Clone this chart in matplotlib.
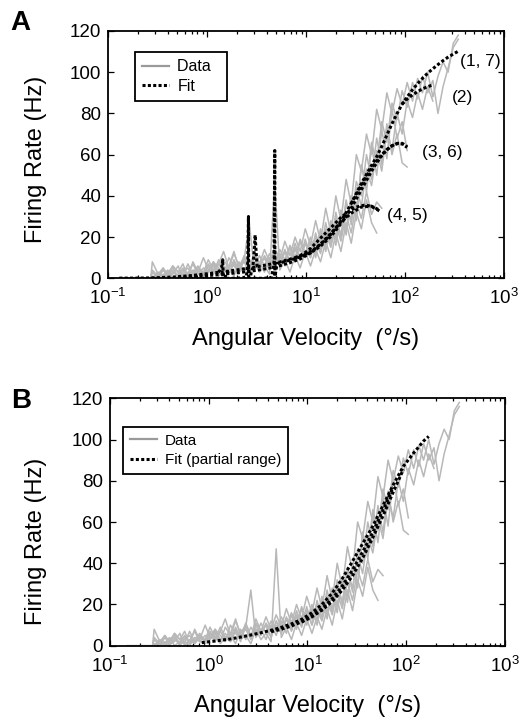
import matplotlib
matplotlib.use("Agg")
import matplotlib.pyplot as plt
import numpy as np
from matplotlib.ticker import LogLocator, NullFormatter

plt.rcParams['font.family'] = ['Liberation Sans', 'DejaVu Sans']
plt.rcParams['mathtext.fontset'] = 'custom'
plt.rcParams['mathtext.rm'] = 'Liberation Sans'
plt.rcParams['mathtext.it'] = 'Liberation Sans:italic'
plt.rcParams['mathtext.bf'] = 'Liberation Sans:bold'

# ---------------- data (angular velocity grid, deg/s) ----------------
X = [0.15, 0.27, 0.28, 0.32, 0.36, 0.40, 0.45, 0.51, 0.57, 0.64, 0.72, 0.81,
     0.92, 1.03, 1.16, 1.31, 1.47, 1.66, 1.87, 2.1, 2.37, 2.67, 3.0, 3.38,
     3.8, 4.28, 4.82, 5.43, 6.11, 6.88, 7.75, 8.72, 9.82, 11.1, 12.5, 14.0,
     15.8, 17.8, 20.0, 22.5, 25.4, 28.6, 32.2, 36.2, 40.8, 45.9, 51.7, 58.2,
     65.5, 73.8, 83.1, 93.5, 105, 119, 134, 150, 169, 191, 215, 242, 272,
     307, 345]

trace1 = [0, 0, 8, 2, 5, 0, 6, 3, 7, 1, 8, 3, 10,
          4, 7, 2, 9, 5, 12, 6, 10, 4, 13,
          7, 14, 8, 15, 9, 18, 11, 20, 13, 24,
          16, 28, 18, 34, 22, 40, 28, 48, 36, 60,
          52, 70, 60, 82, 72, 90, 80, 92, 84, 95,
          86, 97, 90, 100, 88, 98, 105, 100, 114, 118]
trace7 = [0, 0, 3, 0, 2, 1, 4, 0, 3, 5, 1, 4, 2,
          6, 2, 7, 3, 5, 1, 8, 3, 9, 5,
          11, 6, 12, 7, 14, 9, 16, 10, 19, 12,
          20, 12, 24, 15, 28, 19, 33, 24, 40, 30,
          55, 45, 66, 56, 76, 66, 85, 77, 91, 83,
          95, 87, 98, 90, 96, 80, 93, 102, 112, 116]
trace2 = [0, 0, 0, 3, 1, 4, 0, 2, 5, 1, 3, 6, 2,
          4, 8, 3, 6, 2, 9, 4, 11, 5, 8,
          6, 10, 4, 12, 7, 13, 8, 15, 10, 17,
          13, 20, 14, 24, 18, 29, 21, 36, 28, 44,
          35, 53, 45, 62, 52, 72, 62, 80, 70, 86,
          78, 90, 82, 93, 86]
trace3 = [0, 0, 1, 0, 4, 1, 2, 6, 0, 3, 1, 5, 2,
          7, 3, 9, 4, 6, 13, 5, 8, 3, 10,
          5, 11, 7, 10, 6, 14, 8, 17, 10, 19,
          10, 22, 13, 27, 16, 32, 20, 38, 26, 47,
          40, 60, 48, 68, 55, 75, 60, 70, 56, 54]
trace6 = [0, 0, 0, 2, 0, 3, 5, 1, 4, 2, 7, 2, 5,
          3, 8, 5, 2, 10, 6, 3, 9, 27, 4,
          8, 3, 10, 5, 12, 6, 15, 8, 18, 10,
          18, 10, 22, 13, 27, 16, 33, 21, 40, 28,
          55, 42, 64, 50, 72, 58, 82, 68, 76, 62]
trace4 = [0, 0, 0, 2, 1, 0, 3, 1, 2, 0, 4, 2, 1,
          3, 6, 1, 4, 2, 7, 3, 5, 1, 8,
          3, 6, 2, 47, 4, 9, 3, 11, 5, 13,
          6, 14, 8, 18, 10, 22, 13, 27, 17, 32,
          24, 38, 27, 22]
trace5 = [0, 0, 4, 1, 5, 2, 6, 3, 1, 7, 2, 5, 3,
          9, 4, 7, 13, 5, 8, 2, 10, 4, 11,
          7, 10, 4, 12, 6, 13, 7, 14, 9, 17,
          10, 18, 12, 22, 15, 26, 18, 31, 22, 37,
          29, 42, 31, 37, 34]
traces = [trace1, trace2, trace3, trace4, trace5, trace6, trace7]

# ---------------- fits, panel A ----------------
# fits 1 (shared trunk of the well-behaved fits, ending as (1, 7))
FIT_X = [0.13, 0.18, 0.25, 0.28, 0.32, 0.36, 0.40, 0.45, 0.51, 0.57, 0.64,
         0.72, 0.81, 0.92, 1.03, 1.16, 1.31, 1.47, 1.66, 1.87, 2.1, 2.37,
         2.67, 3.0, 3.38, 3.8, 4.28, 4.82, 5.43, 6.11, 6.88, 7.75, 8.72, 9.82,
         11.1, 12.5, 14.0, 15.8, 17.8, 20.0, 22.5, 25.4, 28.6, 32.2, 36.2,
         40.8, 45.9, 51.7, 58.2, 65.5, 73.8, 83.1, 93.5, 105, 119, 134, 150,
         169, 191, 215, 242, 272, 307, 345]
FIT_MAIN = [0, 0, 0.1, 0.2, 0.3, 0.4, 0.5, 0.6, 0.8, 1.0, 1.2, 1.4, 1.7, 2.0,
            2.3, 2.6, 2.9, 3.2, 3.5, 3.9, 4.2, 4.6, 5.0, 5.4, 5.8, 6.3, 6.8,
            7.3, 7.9, 8.6, 9.3, 10.0, 10.8, 11.8, 13.0, 14.6, 16.5, 18.8,
            21.3, 24.3, 27.8, 31.8, 36.3, 41.2, 46.0, 50.5, 54.8, 59.0, 64.0,
            69.5, 75.0, 80.0, 84.5, 88.0, 91.5, 94.5, 97.0, 99.5, 101.7,
            103.7, 105.6, 107.3, 108.8, 110.2]

# fit 2 : spike near 1.46 deg/s, and its own high branch (2)
FIT2_LOW_X = [1.3, 1.4, 1.44, 1.47, 1.55, 1.66]
FIT2_LOW_Y = [2.9, 5.0, 9.0, -5.0, 2.6, 3.5]
FIT2_HIGH_X = [93.5, 105, 119, 134, 150, 169, 191]
FIT2_HIGH_Y = [84.5, 87.0, 89.0, 90.6, 91.9, 93.0, 93.8]

# fit 7 : stays at zero, pole at 2.6, bump at 3.06, then joins trunk
FIT7_LOW_X = [0.13, 0.5, 1.0, 1.8, 2.3, 2.5, 2.58, 2.62, 2.65, 2.72, 2.8,
              2.9, 3.0, 3.06, 3.12, 3.2, 3.38]
FIT7_LOW_Y = [0, 0, 0, 0, 0.2, 1.0, 8.0, 30.0, -40.0, 0, 3.0, 5.0, 14.0,
              21.0, 14.0, 6.0, 5.4]

# fit 3 : (3, 6) branch off the trunk
FIT3_X = [28.6, 32.2, 36.2, 40.8, 45.9, 51.7, 58.2, 65.5, 73.8, 83.1, 93.5, 105]
FIT3_Y = [36.3, 40.5, 45.0, 49.5, 53.5, 57.0, 60.0, 62.5, 64.3, 65.3, 65.2, 63.5]

# fit 6 : zero until a pole near 4.85, then its own (3, 6) curve
FIT6_X = [2.6, 3.8, 4.5, 4.75, 4.83, 4.86, 4.9, 5.1, 5.43, 6.88, 8.72, 11.1,
          14.0, 17.8, 20.0, 22.5, 25.4, 28.6, 32.2, 36.2, 40.8, 45.9, 51.7,
          58.2, 65.5, 73.8, 83.1, 93.5, 105]
FIT6_Y = [0, 0, 0.5, 8.0, 62.0, -60.0, 2.0, 7.2, 7.5, 8.8, 10.3, 12.4, 15.6,
          20.3, 23.3, 26.5, 30.0, 34.0, 38.5, 43.0, 47.5, 52.0, 56.0, 59.5,
          62.3, 64.3, 65.5, 65.5, 64.0]

# fit 4 : (4, 5) branch off the trunk
FIT4_X = [7.75, 8.72, 9.82, 11.1, 12.5, 14.0, 15.8, 17.8, 20.0, 22.5, 25.4,
          28.6, 32.2, 36.2, 40.8, 45.9, 51.7, 55.8]
FIT4_Y = [10.0, 11.0, 12.5, 14.5, 17.0, 19.5, 22.0, 24.5, 27.0, 29.5, 31.5,
          33.2, 34.5, 35.3, 35.5, 34.8, 33.5, 32.5]

# fit 5 : slightly lower start, ending as (4, 5)
FIT5_X = [0.51, 0.64, 0.81, 1.03, 1.31, 1.66, 2.1, 2.67, 3.38, 4.28, 5.43,
          6.88, 8.72, 11.1, 14.0, 17.8, 22.5, 28.6, 36.2, 45.9, 55.8]
FIT5_Y = [0.4, 0.7, 1.0, 1.4, 1.8, 2.3, 2.8, 3.4, 4.1, 5.0, 6.1, 7.6, 9.4,
          12.3, 16.6, 21.8, 27.3, 31.6, 34.6, 35.0, 33.0]

# ---------------- fits, panel B (partial range) ----------------
FITB1_X = [0.85, 1.0, 1.31, 1.66, 2.1, 2.67, 3.38, 4.28, 5.43, 6.88, 8.72,
           11.1, 14.0, 17.8, 22.5, 28.6, 36.2, 45.9, 58.2, 73.8, 93.5, 119,
           150, 169]
FITB1_Y = [1.5, 1.9, 2.6, 3.3, 4.2, 5.2, 6.3, 7.5, 8.9, 10.6, 12.8, 16.0,
           20.0, 25.5, 32.5, 41.0, 49.5, 58.0, 68.0, 78.0, 87.0, 93.5, 99.3,
           101.5]
FITB2_X = [4.28, 5.43, 6.88, 8.72, 11.1, 14.0, 17.8, 22.5, 28.6, 36.2, 45.9,
           58.2, 73.8]
FITB2_Y = [6.8, 8.0, 9.6, 11.6, 14.4, 18.0, 22.8, 29.0, 36.8, 45.5, 55.0,
           65.8, 77.0]
FITB3_X = [8.72, 11.1, 14.0, 17.8, 22.5, 28.6, 36.2, 45.9, 58.2, 73.8, 93.5]
FITB3_Y = [11.5, 14.0, 17.2, 21.5, 27.0, 34.0, 42.5, 52.5, 63.0, 74.5, 85.5]

LABELS = ["(1, 7)", "(2)", "(3, 6)", "(4, 5)"]
LABEL_X = [360, 298, 148, 65.8]
LABEL_Y = [105, 87.5, 60.8, 30.7]

GRAY = '#b8b8b8'
DOTS = (0, (1.0, 0.75))
FIT_LW = 2.2


def setup(ax):
    ax.set_xscale('log')
    ax.set_xlim(0.1, 1000)
    ax.set_ylim(0, 120)
    ax.set_yticks([0, 20, 40, 60, 80, 100, 120])
    ax.xaxis.set_major_locator(LogLocator(base=10, numticks=10))
    ax.xaxis.set_minor_locator(LogLocator(base=10, subs=np.arange(2, 10), numticks=50))
    ax.xaxis.set_minor_formatter(NullFormatter())
    ax.tick_params(which='both', direction='in', top=True, right=True,
                   labelsize=13.5, width=0.9)
    ax.tick_params(which='major', length=4.5, pad=7)
    ax.tick_params(which='minor', length=2.3)
    ax.tick_params(axis='y', pad=5)
    for s in ax.spines.values():
        s.set_linewidth(1.3)
    ax.set_xlabel('Angular Velocity  (°/s)', fontsize=17, labelpad=14)
    ax.set_ylabel('Firing Rate (Hz)', fontsize=17)


fig = plt.figure(figsize=(5.22, 7.24), dpi=100)
axA = fig.add_axes([0.207, 0.6156, 0.7586, 0.3416])
axB = fig.add_axes([0.2107, 0.1081, 0.7567, 0.3418])

fkw = dict(color='black', lw=FIT_LW, linestyle=DOTS)

# ---- panel A ----
for i, t in enumerate(traces):
    axA.plot(X[:len(t)], t, color=GRAY, lw=1.1, label='Data' if i == 0 else None)

axA.plot(FIT_X, FIT_MAIN, label='Fit', **fkw)
axA.plot(FIT7_LOW_X, FIT7_LOW_Y, **fkw)
axA.plot(FIT2_LOW_X, FIT2_LOW_Y, **fkw)
axA.plot(FIT2_HIGH_X, FIT2_HIGH_Y, **fkw)
axA.plot(FIT3_X, FIT3_Y, **fkw)
axA.plot(FIT6_X, FIT6_Y, **fkw)
axA.plot(FIT4_X, FIT4_Y, **fkw)
axA.plot(FIT5_X, FIT5_Y, **fkw)

for s, lx, ly in zip(LABELS, LABEL_X, LABEL_Y):
    axA.text(lx, ly, s, fontsize=12.5, ha='left', va='center')

setup(axA)
axA.yaxis.set_label_coords(-0.155, 0.48)
legA = axA.legend(loc='upper left', bbox_to_anchor=(0.068, 0.915),
                  borderaxespad=0, fancybox=False, framealpha=1,
                  edgecolor='black', fontsize=11.5, handlelength=1.7,
                  handletextpad=0.5, borderpad=0.45, labelspacing=0.3)
legA.get_texts()[0].set_text('Data  ')
legA.get_frame().set_linewidth(1.3)
legA.get_lines()[0].set_color('#9a9a9a')
legA.get_lines()[0].set_linewidth(1.6)

# ---- panel B ----
for i, t in enumerate(traces):
    axB.plot(X[:len(t)], t, color=GRAY, lw=1.1, label='Data' if i == 0 else None)
axB.plot(FITB1_X, FITB1_Y, label='Fit (partial range)', **fkw)
axB.plot(FITB2_X, FITB2_Y, **fkw)
axB.plot(FITB3_X, FITB3_Y, **fkw)

setup(axB)
axB.yaxis.set_label_coords(-0.16, 0.42)
legB = axB.legend(loc='upper left', bbox_to_anchor=(0.033, 0.885),
                  borderaxespad=0, fancybox=False, framealpha=1,
                  edgecolor='black', fontsize=11, handlelength=1.8,
                  handletextpad=0.5, borderpad=0.45, labelspacing=0.35)
legB.get_frame().set_linewidth(1.3)
legB.get_lines()[0].set_color('#9a9a9a')
legB.get_lines()[0].set_linewidth(1.6)

fig.text(10 / 522, 1 - 23 / 724, 'A', fontsize=20, fontweight='bold',
         ha='left', va='center')
fig.text(11 / 522, 1 - 401 / 724, 'B', fontsize=20, fontweight='bold',
         ha='left', va='center')

fig.savefig('out.png', dpi=100)
